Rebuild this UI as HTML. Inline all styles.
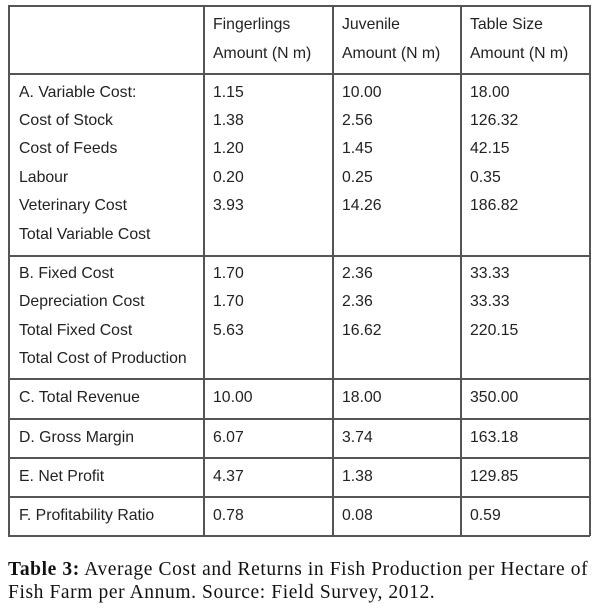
<!DOCTYPE html>
<html><head><meta charset="utf-8"><style>
body{margin:0;width:600px;height:614px;background:#fff;position:relative;overflow:hidden;font-family:"Liberation Sans",Arial,sans-serif;color:#222}
.h{position:absolute;height:1.5px;background:#555}
.v{position:absolute;width:1.5px;background:#555}
.t{position:absolute;font-size:15.8px;line-height:18px;white-space:nowrap;transform:translateY(-8px)}
.cap{position:absolute;left:8px;font-family:"Liberation Serif",serif;font-size:19.5px;line-height:22px;letter-spacing:0.6px;white-space:nowrap;color:#111}
</style></head><body>
<div>
<div class="h" style="left:8px;width:582px;top:5px"></div>
<div class="h" style="left:8px;width:582px;top:73px"></div>
<div class="h" style="left:8px;width:582px;top:255px"></div>
<div class="h" style="left:8px;width:582px;top:378px"></div>
<div class="h" style="left:8px;width:582px;top:418px"></div>
<div class="h" style="left:8px;width:582px;top:457px"></div>
<div class="h" style="left:8px;width:582px;top:496px"></div>
<div class="h" style="left:8px;width:582px;top:535px"></div>
<div class="v" style="top:5px;height:531px;left:8px"></div>
<div class="v" style="top:5px;height:531px;left:203px"></div>
<div class="v" style="top:5px;height:531px;left:332px"></div>
<div class="v" style="top:5px;height:531px;left:460px"></div>
<div class="v" style="top:5px;height:531px;left:589px"></div>
</div>
<div id="cells"></div>
<div class="cap" style="top:559px"><b>Table 3:</b> Average Cost and Returns in Fish Production per Hectare of</div>
<div class="cap" style="top:582px">Fish Farm per Annum. Source: Field Survey, 2012.</div>
<script>
const rowsY=[24,53,92,120,148,177,205,234,273,301,330,358,397,437,476,515];
const rows=[
["","Fingerlings","Juvenile","Table Size"],
["","Amount (N m)","Amount (N m)","Amount (N m)"],
["A. Variable Cost:","1.15","10.00","18.00"],
["Cost of Stock","1.38","2.56","126.32"],
["Cost of Feeds","1.20","1.45","42.15"],
["Labour","0.20","0.25","0.35"],
["Veterinary Cost","3.93","14.26","186.82"],
["Total Variable Cost","","",""],
["B. Fixed Cost","1.70","2.36","33.33"],
["Depreciation Cost","1.70","2.36","33.33"],
["Total Fixed Cost","5.63","16.62","220.15"],
["Total Cost of Production","","",""],
["C. Total Revenue","10.00","18.00","350.00"],
["D. Gross Margin","6.07","3.74","163.18"],
["E. Net Profit","4.37","1.38","129.85"],
["F. Profitability Ratio","0.78","0.08","0.59"]];
const colX=[19,213,342,470];
const c=document.getElementById('cells');
rows.forEach((r,i)=>r.forEach((txt,j)=>{if(!txt)return;
const d=document.createElement('div');d.className='t';


d.style.left=colX[j]+'px';d.style.top=rowsY[i]+'px';d.textContent=txt;c.appendChild(d);}));
</script>
</body></html>
